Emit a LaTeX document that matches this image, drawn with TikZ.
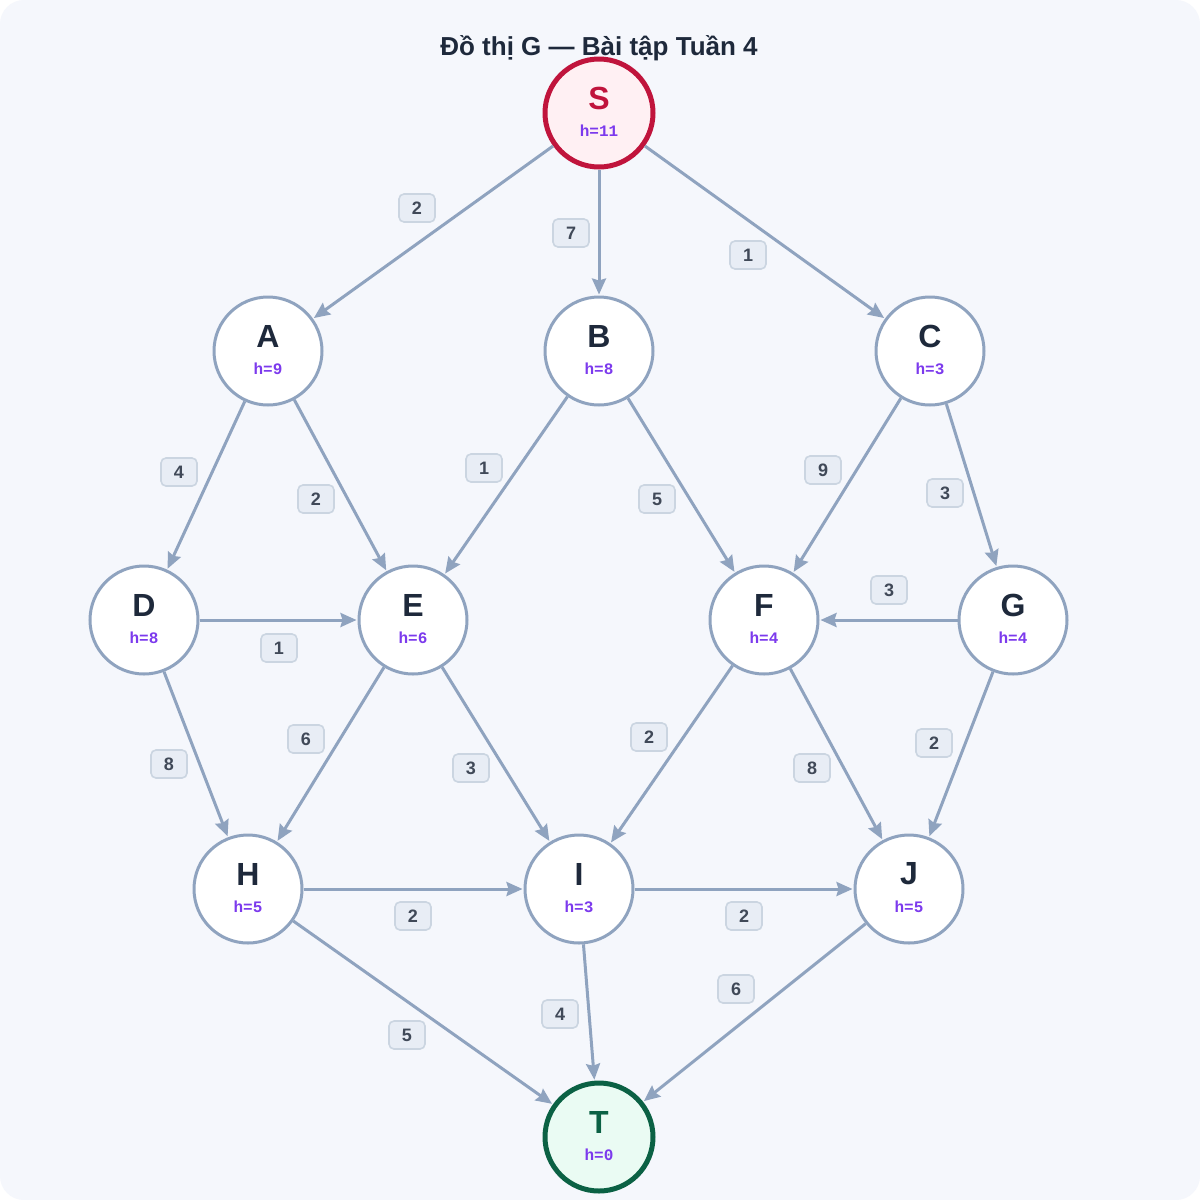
\documentclass[tikz,border=0pt]{standalone}
\usepackage{fontspec}
\setmainfont{Liberation Sans}
\newfontfamily\monof{Liberation Mono}
\usetikzlibrary{arrows.meta}
\definecolor{bg}{HTML}{F5F7FC}
\definecolor{edgec}{HTML}{8FA3BF}
\definecolor{lblf}{HTML}{E8EDF5}
\definecolor{lbld}{HTML}{CBD5E1}
\definecolor{ink}{HTML}{1E293B}
\definecolor{hcol}{HTML}{7C3AED}
\definecolor{sred}{HTML}{C0143C}
\definecolor{sfill}{HTML}{FFF0F3}
\definecolor{tgreen}{HTML}{0B6144}
\definecolor{tfill}{HTML}{EAFBF3}
\tikzset{
 vx/.style={circle,draw=edgec,line width=1.5pt,fill=white,minimum size=54pt,inner sep=0pt},
 hx/.style={font=\monof\bfseries\fontsize{8}{9}\selectfont,text=hcol},
 nm/.style={font=\bfseries\fontsize{16}{18}\selectfont,text=ink},
 ed/.style={draw=edgec,line width=1.5pt,-{Stealth[length=8pt,width=7pt,inset=1pt]},shorten >=0.5pt},
 lb/.style={draw=lbld,fill=lblf,rounded corners=2.5pt,line width=0.8pt,minimum width=18pt,minimum height=14pt,inner sep=0pt,font=\bfseries\fontsize{9}{10}\selectfont,text=ink!85}
}
\begin{document}
\begin{tikzpicture}[x=0.5pt,y=-0.5pt]
\useasboundingbox (0,0) rectangle (1200,1200);
\fill[white] (0,0) rectangle (1200,1200);
\fill[bg,rounded corners=12pt] (0,0) rectangle (1200,1200);
\node[font=\bfseries\fontsize{13}{15}\selectfont,text=ink] (title) at (599,48) {Đồ thị G — Bài tập Tuần 4};
\node[vx,draw=sred,fill=sfill,line width=2.5pt] (S) at (599,113) {};
\node[vx,draw=tgreen,fill=tfill,line width=2.5pt] (T) at (599,1137) {};
\foreach \n/\x/\y in {A/268/351,B/599/351,C/930/351,D/144/620,E/413/620,F/764/620,G/1013/620,H/248/889,I/579/889,J/909/889}
  \node[vx] (\n) at (\x,\y) {};
\foreach \n/\h in {A/9,B/8,C/3,D/8,E/6,F/4,G/4,H/5,I/3,J/5} {
  \node[nm] (\n-l) at ([yshift=7.5pt]\n.center) {\n};
  \node[hx] (\n-h) at ([yshift=-9pt]\n.center) {h=\h};
}
\node[nm,text=sred] (S-l) at ([yshift=7.5pt]S.center) {S};
\node[hx] (S-h) at ([yshift=-9pt]S.center) {h=11};
\node[nm,text=tgreen] (T-l) at ([yshift=7.5pt]T.center) {T};
\node[hx] (T-h) at ([yshift=-9pt]T.center) {h=0};
\foreach \a/\b/\w/\lx/\ly in {S/A/2/417/208,S/B/7/571/233,S/C/1/748/255,A/D/4/179/472,A/E/2/316/499,B/E/1/484/468,B/F/5/657/499,C/F/9/823/470,C/G/3/945/493,D/E/1/279/648,G/F/3/889/590,D/H/8/169/764,E/H/6/306/739,E/I/3/471/768,F/I/2/649/737,F/J/8/812/768,G/J/2/934/743,H/I/2/413/916,I/J/2/744/916,H/T/5/407/1035,I/T/4/560/1014,J/T/6/736/989} {
  \draw[ed] (\a) -- (\b);
  \node[lb] (w\a\b) at (\lx,\ly) {\w};
}
\end{tikzpicture}
\end{document}
